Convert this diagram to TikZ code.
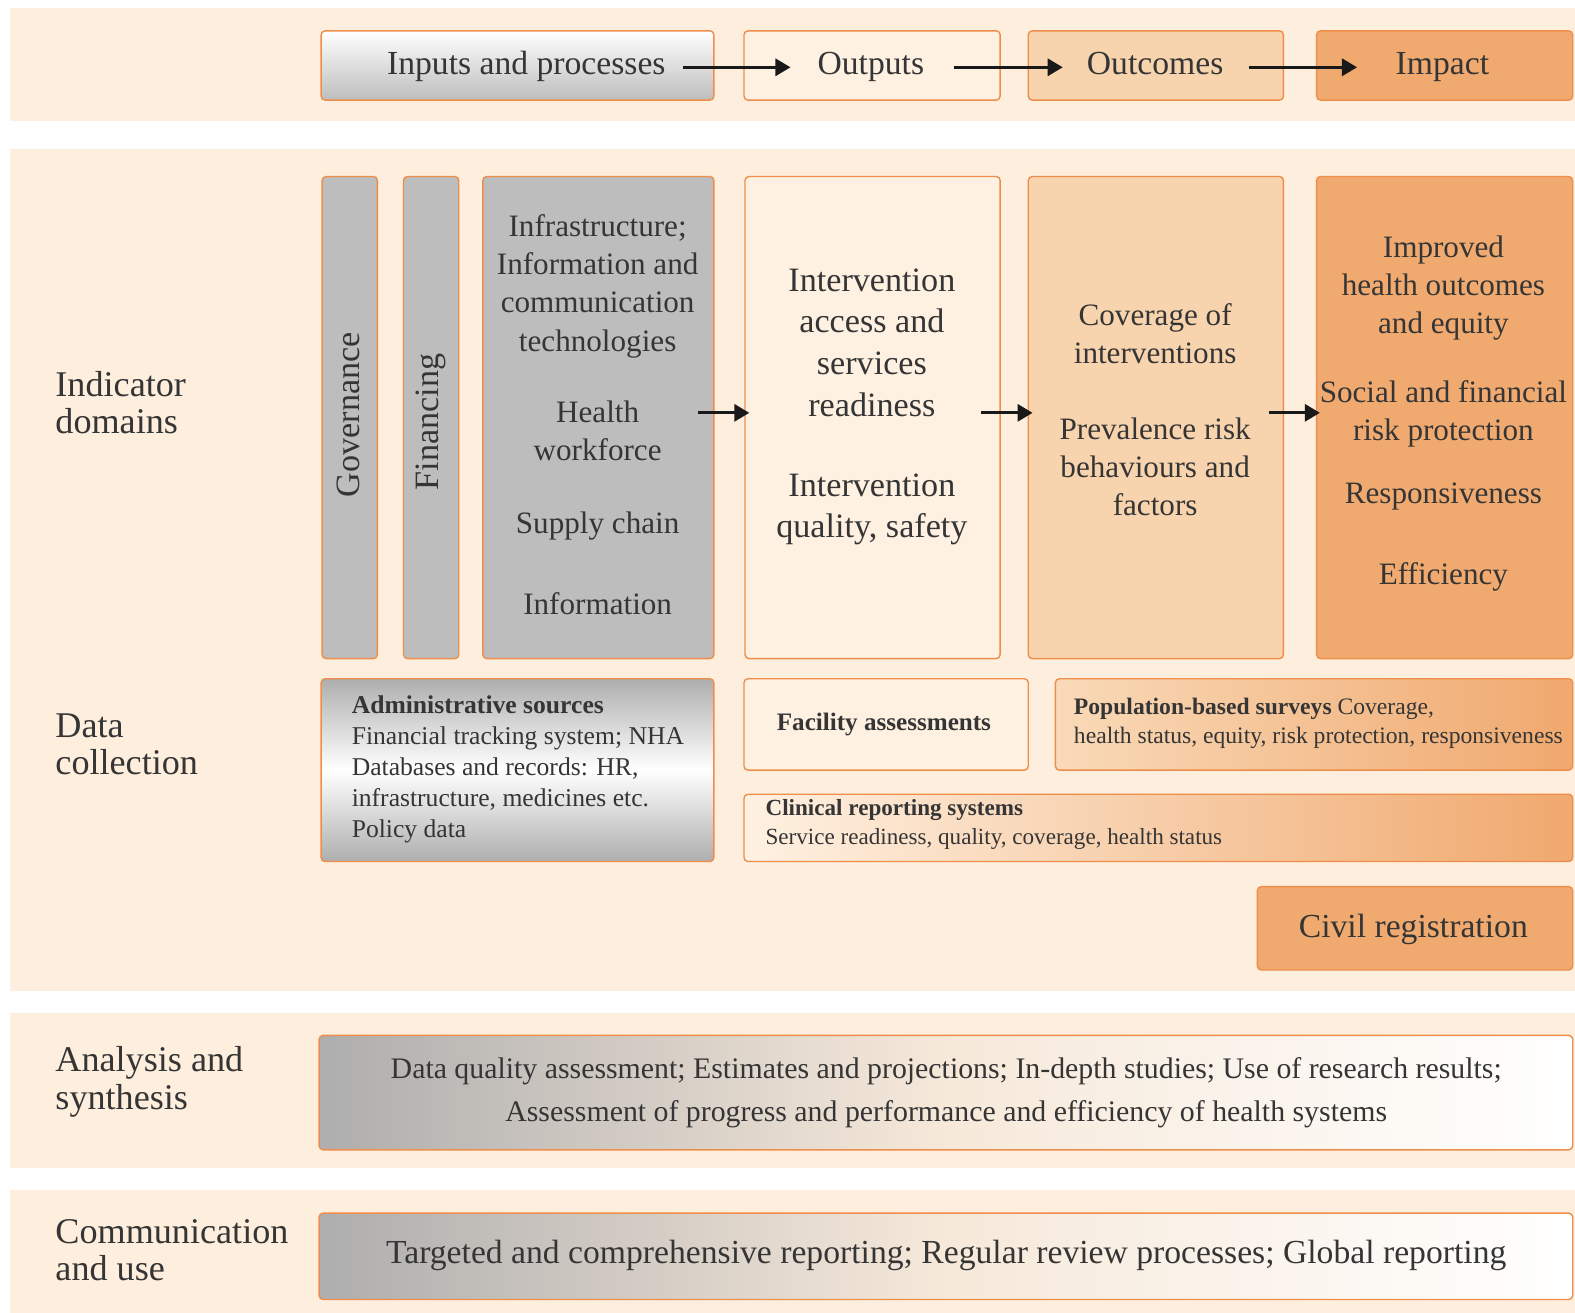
\documentclass[tikz,border=0pt]{standalone}
\usepackage{fontspec}
\setmainfont{Liberation Serif}
\usetikzlibrary{arrows.meta}
\definecolor{bandbg}{HTML}{FDEEDD}
\definecolor{bord}{HTML}{EE8E4A}
\definecolor{paleo}{HTML}{FEF1E2}
\definecolor{midor}{HTML}{F8D4AE}
\definecolor{daror}{HTML}{F0AA70}
\definecolor{grayb}{HTML}{BDBDBD}
\definecolor{txt}{HTML}{353535}
\tikzset{
  band/.style={fill=bandbg, draw=none},
  bx/.style={draw=bord, line width=1.4pt, rounded corners=4pt, inner sep=0pt, anchor=north west},
  lab/.style={text=txt, align=center, inner sep=0pt, font=\fontsize{31}{38}\selectfont},
  toplab/.style={text=txt, inner sep=0pt, anchor=base, font=\fontsize{33.5}{38}\selectfont},
  sidelab/.style={text=txt, align=left, inner sep=0pt, anchor=west, font=\fontsize{36}{37}\selectfont},
  small/.style={text=txt, align=left, inner sep=0pt, font=\fontsize{25.5}{31}\selectfont},
  arr/.style={-{Triangle[length=15pt,width=17pt]}, line width=3pt, color=black!90}
}
\begin{document}
\begin{tikzpicture}[x=1pt,y=-1pt]
\useasboundingbox (0,0) rectangle (1568,1307);
\fill[white] (0,0) rectangle (1568,1307);
% bands
\fill[band] (10,8) rectangle (1568,120);
\fill[band] (10,148) rectangle (1568,987);
\fill[band] (10,1008) rectangle (1568,1163);
\fill[band] (10,1185) rectangle (1568,1307);

% top row
\node[bx, top color=white, bottom color=grayb, minimum width=391pt, minimum height=69pt] (inpbox) at (319,30) {};
\node[bx, fill=paleo, minimum width=255pt, minimum height=69pt] (outbox) at (740,30) {};
\node[bx, fill=midor, minimum width=254pt, minimum height=69pt] (ocbox) at (1023,30) {};
\node[bx, fill=daror, minimum width=255pt, minimum height=69pt] (impbox) at (1310,30) {};
\node[toplab] (inptxt) at (524,74) {Inputs and processes};
\node[toplab] (outtxt) at (867,74) {Outputs};
\node[toplab] (octxt) at (1150,74) {Outcomes};
\node[toplab] (imptxt) at (1436,74) {Impact};
\coordinate (a1s) at (680,67); \coordinate (a1e) at (787,67);
\coordinate (a2s) at (950,67); \coordinate (a2e) at (1058,67);
\coordinate (a3s) at (1243,67); \coordinate (a3e) at (1351,67);
\draw[arr] (a1s) -- (a1e);
\draw[arr] (a2s) -- (a2e);
\draw[arr] (a3s) -- (a3e);

% indicator domains
\node[sidelab] (inddom) at (55,401) {Indicator\\domains};
\node[bx, fill=grayb, minimum width=55pt, minimum height=480pt] (gov) at (320,175) {};
\node[bx, fill=grayb, minimum width=55pt, minimum height=480pt] (fin) at (401,175) {};
\node[bx, fill=grayb, minimum width=230pt, minimum height=480pt] (infra) at (480,175) {};
\node[bx, fill=paleo, minimum width=254pt, minimum height=480pt] (outcol) at (741,175) {};
\node[bx, fill=midor, minimum width=254pt, minimum height=480pt] (occol) at (1023,175) {};
\node[bx, fill=daror, minimum width=255pt, minimum height=480pt] (impcol) at (1310,175) {};
\node[lab, rotate=90, font=\fontsize{34}{36}\selectfont] (govt) at (347,413) {Governance};
\node[lab, rotate=90, font=\fontsize{34}{36}\selectfont] (fint) at (429,420) {Financing};
\node[lab] (infA) at (595,285) {Infrastructure;\\Information and\\communication\\technologies};
\node[lab] (infB) at (595,429) {Health\\workforce};
\node[lab] (infC) at (595,524) {Supply chain};
\node[lab] (infD) at (595,601) {Information};
\node[lab, font=\fontsize{34}{41.5}\selectfont] (outA) at (868,341) {Intervention\\access and\\services\\readiness};
\node[lab, font=\fontsize{34}{41.5}\selectfont] (outB) at (868,507) {Intervention\\quality, safety};
\node[lab] (ocA) at (1150,332) {Coverage of\\interventions};
\node[lab] (ocB) at (1150,465) {Prevalence risk\\behaviours and\\factors};
\node[lab] (impA) at (1437,287) {Improved\\health outcomes\\and equity};
\node[lab] (impB) at (1437,412) {Social and financial\\risk protection};
\node[lab] (impC) at (1437,494) {Responsiveness};
\node[lab] (impD) at (1437,574) {Efficiency};
\coordinate (b1s) at (695,411); \coordinate (b1e) at (746,411);
\coordinate (b2s) at (977,411); \coordinate (b2e) at (1028,411);
\coordinate (b3s) at (1263,411); \coordinate (b3e) at (1314,411);
\draw[arr] (b1s) -- (b1e);
\draw[arr] (b2s) -- (b2e);
\draw[arr] (b3s) -- (b3e);

% data collection
\node[sidelab] (datacol) at (55,741) {Data\\collection};
\node[bx, top color=grayb!92!black, bottom color=grayb!92!black, middle color=white, minimum width=391pt, minimum height=182pt] (admin) at (319,675) {};
\node[small, anchor=west] (admint) at (350,766) {\textbf{Administrative sources}\\Financial tracking system; NHA\\Databases and records: HR,\\infrastructure, medicines etc.\\Policy data};
\node[bx, fill=paleo, minimum width=283pt, minimum height=91pt] (facil) at (740,675) {};
\node[small, font=\fontsize{25}{30}\selectfont] (facilt) at (880,721) {\textbf{Facility assessments}};
\node[bx, left color=midor!80!paleo, right color=daror!95!bord, minimum width=515pt, minimum height=91pt] (popul) at (1050,675) {};
\node[small, anchor=west, font=\fontsize{23.5}{29}\selectfont] (poput) at (1069,720) {\textbf{Population-based surveys} Coverage,\\health status, equity, risk protection, responsiveness};
\node[bx, left color=paleo, right color=daror!95!bord, minimum width=825pt, minimum height=67pt] (clin) at (740,790) {};
\node[small, anchor=west, font=\fontsize{23}{29}\selectfont] (clint) at (762,821) {\textbf{Clinical reporting systems}\\Service readiness, quality, coverage, health status};
\node[bx, fill=daror, minimum width=314pt, minimum height=83pt] (civil) at (1251,882) {};
\node[toplab] (civilt) at (1407,933) {Civil registration};

% analysis
\node[sidelab] (anal) at (55,1077) {Analysis and\\synthesis};
\node[bx, left color=grayb!92!black, right color=white, middle color=bandbg!90!grayb, minimum width=1248pt, minimum height=114pt] (analb) at (317,1030) {};
\node[lab, font=\fontsize{29.7}{43}\selectfont] (analt) at (942,1088) {Data quality assessment; Estimates and projections; In-depth studies; Use of research results;\\Assessment of progress and performance and efficiency of health systems};

% communication
\node[sidelab] (comm) at (55,1245) {Communication\\and use};
\node[bx, left color=grayb!92!black, right color=white, middle color=bandbg!90!grayb, minimum width=1248pt, minimum height=86pt] (commb) at (317,1207) {};
\node[toplab] (commt) at (942,1258) {Targeted and comprehensive reporting; Regular review processes; Global reporting};
\end{tikzpicture}
\end{document}
